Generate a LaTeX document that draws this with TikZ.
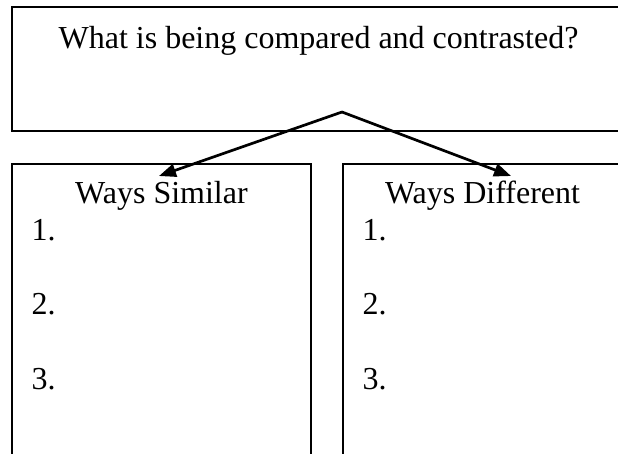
\documentclass[tikz,border=0pt]{standalone}
\usepackage{fontspec}
\setmainfont{Liberation Serif}
\usetikzlibrary{arrows.meta}
\begin{document}
\begin{tikzpicture}[x=1pt,y=-1pt,
  box/.style={draw, line width=1.8pt, inner sep=0pt, outer sep=0pt},
  lbl/.style={font=\fontsize{32}{36}\selectfont, inner sep=0pt, anchor=base},
  num/.style={font=\fontsize{32}{36}\selectfont, inner sep=0pt, anchor=base west},
  arr/.style={line width=2.7pt, line cap=round, -{Triangle[length=17pt,width=13pt]}}]
\useasboundingbox (0,0) rectangle (618,453);
\clip (0,0) rectangle (618,453);
% boxes
\node[box, minimum width=613pt, minimum height=124pt] (topbox) at (318.5,69) {};
\node[box, minimum width=299pt, minimum height=316pt] (leftbox) at (161.5,322) {};
\node[box, minimum width=279pt, minimum height=316pt] (rightbox) at (482.5,322) {};
% texts
\node[lbl] (q) at (318.5,48) {What is being compared and contrasted?};
\node[lbl] (sim) at (161.5,203) {Ways Similar};
\node[lbl] (dif) at (482.5,203) {Ways Different};
\node[num] (s1) at (31.5,240) {1.};
\node[num] (s2) at (31.5,314) {2.};
\node[num] (s3) at (31.5,389) {3.};
\node[num] (d1) at (362.5,240) {1.};
\node[num] (d2) at (362.5,314) {2.};
\node[num] (d3) at (362.5,389) {3.};
% arrows
\coordinate (apex) at (342,112);
\coordinate (tipL) at (159,176);
\coordinate (tipR) at (511,176);
\draw[arr] (apex) -- (tipL);
\draw[arr] (apex) -- (tipR);
\end{tikzpicture}
\end{document}
